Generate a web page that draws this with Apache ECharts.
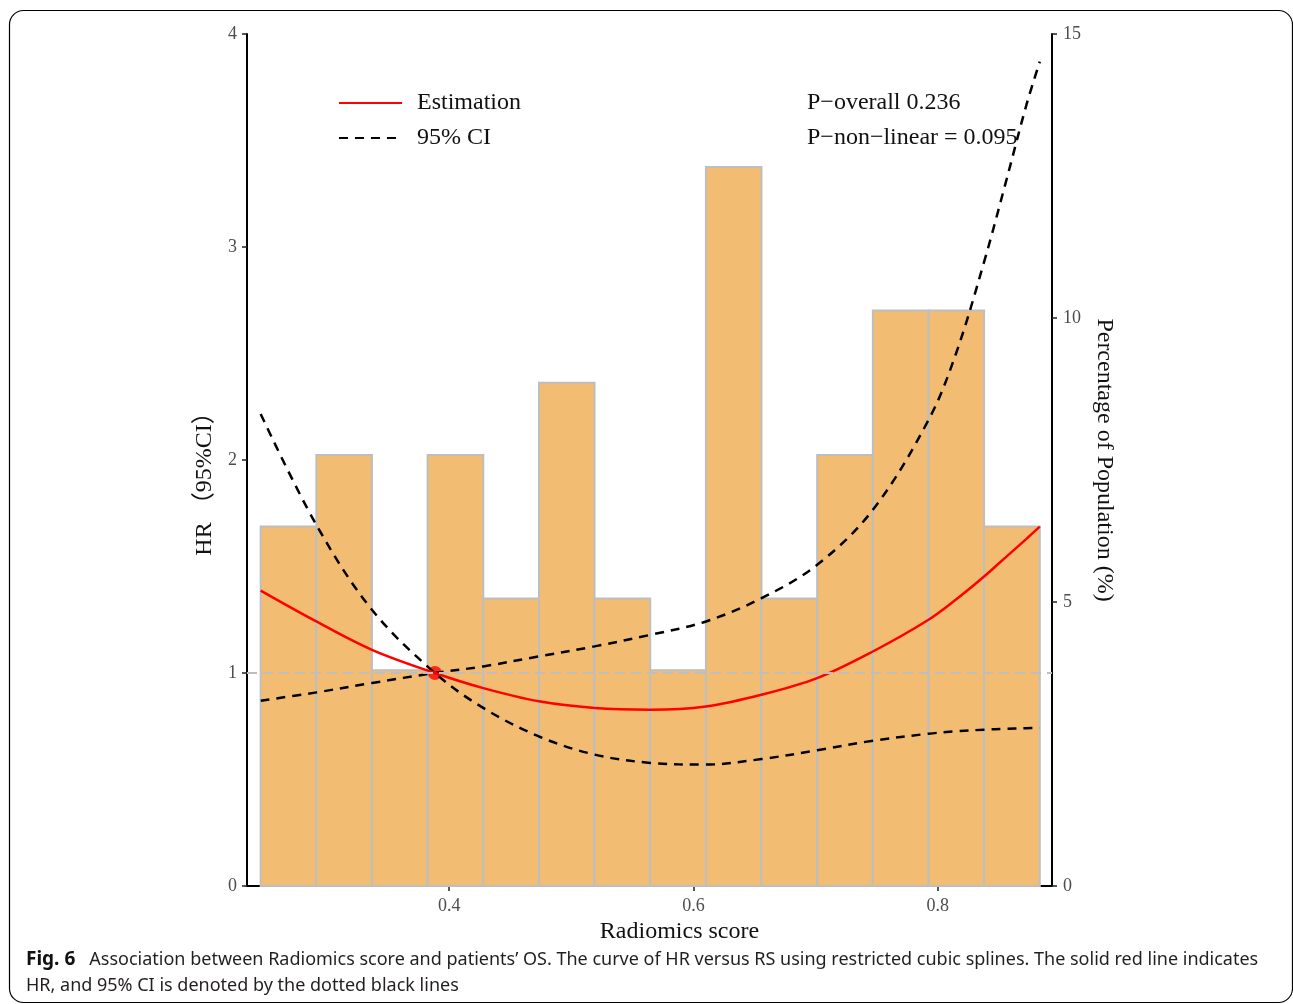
<!DOCTYPE html>
<html>
<head>
<meta charset="utf-8">
<title>Fig. 6</title>
<script src="https://cdn.jsdelivr.net/npm/echarts@6/dist/echarts.min.js"></script>
<style>
  html, body { margin: 0; padding: 0; background: #fff; }
  #chart { width: 1293px; height: 1004px; }
</style>
</head>
<body>
<div id="chart"></div>
<script>
// histogram of Radiomics score: bin edges and percentage of population per bin
var binEdges = [0.2456, 0.2912, 0.3367, 0.3823, 0.4279, 0.4735, 0.5190, 0.5646,
                0.6102, 0.6557, 0.7013, 0.7469, 0.7925, 0.8380, 0.8836];
var binPct = [6.33, 7.59, 3.80, 7.59, 5.06, 8.86, 5.06, 3.80, 12.66, 5.06, 7.59, 10.13, 10.13, 6.33];

// restricted cubic spline, HR and 95% CI
var curveX = [0.2456, 0.2912, 0.3367, 0.3883, 0.4279, 0.4735, 0.5190, 0.5646, 0.6102,
              0.6557, 0.7013, 0.7469, 0.7925, 0.8150, 0.8380, 0.8556, 0.8727, 0.8836];
var hrEst = [1.387, 1.242, 1.109, 1.000, 0.929, 0.867, 0.836, 0.828, 0.843,
             0.898, 0.976, 1.101, 1.250, 1.345, 1.453, 1.543, 1.630, 1.687];
// CI line that starts high on the left and ends low on the right
var ciA = [2.216, 1.695, 1.297, 1.000, 0.836, 0.702, 0.617, 0.578, 0.570,
           0.596, 0.637, 0.682, 0.715, 0.726, 0.734, 0.738, 0.741, 0.742];
// CI line that starts low on the left and ends high on the right
var ciB = [0.870, 0.909, 0.953, 1.000, 1.031, 1.078, 1.125, 1.179, 1.242,
           1.351, 1.508, 1.766, 2.188, 2.500, 2.930, 3.300, 3.668, 3.870];

var refPoint = [0.3883, 1];
var xTicks = [0.4, 0.6, 0.8];

var pText = ['P\u2212overall 0.236', 'P\u2212non\u2212linear = 0.095'];
var caption1 = 'Association between Radiomics score and patients\u2019 OS. The curve of HR versus RS using restricted cubic splines. The solid red line indicates';
var caption2 = 'HR, and 95% CI is denoted by the dotted black lines';

var serif = "'Liberation Serif', 'Noto Sans CJK SC', serif";
var sans = "'Noto Sans', sans-serif";

function pairs(ys) {
  return curveX.map(function (x, i) { return [x, ys[i]]; });
}

var barData = binPct.map(function (p, i) {
  return [binEdges[i], binEdges[i + 1], p];
});

var chart = echarts.init(document.getElementById('chart'));

chart.setOption({
  backgroundColor: '#fff',
  animation: false,
  grid: { left: 247, right: 241, top: 34, bottom: 118 },
  legend: {
    left: 338,
    top: 91,
    padding: 0,
    orient: 'vertical',
    itemWidth: 63,
    itemHeight: 14,
    itemGap: 11,
    itemStyle: { opacity: 0 },
    data: ['Estimation', '95% CI'],
    textStyle: { fontFamily: serif, fontSize: 24, color: '#111', lineHeight: 24, padding: [0, 0, 0, 10] }
  },
  xAxis: {
    type: 'value',
    min: 0.2344,
    max: 0.8936,
    name: 'Radiomics score',
    nameLocation: 'middle',
    nameGap: 30,
    nameTextStyle: { fontFamily: serif, fontSize: 24, color: '#111', padding: [0, 0, 0, 60] },
    axisLine: { lineStyle: { color: '#000', width: 2 } },
    axisTick: { customValues: xTicks, length: 5, lineStyle: { color: '#222', width: 1.5 } },
    axisLabel: {
      customValues: xTicks,
      margin: 11,
      fontFamily: serif,
      fontSize: 18,
      color: '#4d4d4d',
      formatter: function (v) { return v.toFixed(1); }
    },
    splitLine: { show: false }
  },
  yAxis: [{
    type: 'value',
    position: 'left',
    min: 0,
    max: 4,
    interval: 1,
    name: 'HR \uFF0895%CI\uFF09',
    nameLocation: 'middle',
    nameGap: 26,
    nameTextStyle: { fontFamily: serif, fontSize: 24, color: '#111', padding: [0, 36, 0, 0] },
    axisLine: { show: true, lineStyle: { color: '#000', width: 2 } },
    axisTick: { show: true, length: 5, lineStyle: { color: '#222', width: 1.5 } },
    axisLabel: { margin: 10, fontFamily: serif, fontSize: 18, color: '#4d4d4d' },
    splitLine: { show: false }
  }, {
    type: 'value',
    position: 'right',
    min: 0,
    max: 15,
    interval: 5,
    name: 'Percentage of Population (%)',
    nameLocation: 'middle',
    nameRotate: -90,
    nameGap: 24,
    nameTextStyle: { fontFamily: serif, fontSize: 24, color: '#111' },
    axisLine: { show: true, lineStyle: { color: '#000', width: 2 } },
    axisTick: { show: true, length: 5, lineStyle: { color: '#222', width: 1.5 } },
    axisLabel: { margin: 11, fontFamily: serif, fontSize: 18, color: '#4d4d4d' },
    splitLine: { show: false }
  }],
  series: [{
    type: 'custom',
    yAxisIndex: 1,
    data: barData,
    encode: { x: [0, 1], y: 2 },
    renderItem: function (params, api) {
      var topLeft = api.coord([api.value(0), api.value(2)]);
      var bottomRight = api.coord([api.value(1), 0]);
      return {
        type: 'rect',
        shape: {
          x: topLeft[0],
          y: topLeft[1],
          width: bottomRight[0] - topLeft[0],
          height: bottomRight[1] - topLeft[1]
        },
        style: { fill: '#f2bd72', stroke: '#bebebe', lineWidth: 2 }
      };
    }
  }, {
    name: '95% CI',
    type: 'line',
    data: pairs(ciA),
    smooth: 0.35,
    symbol: 'none',
    lineStyle: { color: '#000', width: 2.5, type: [9, 7] },
    itemStyle: { color: '#000' },
    markLine: {
      silent: true,
      symbol: 'none',
      label: { show: false },
      lineStyle: { color: '#bebebe', width: 2, type: [10, 6] },
      data: [{ yAxis: 1 }]
    }
  }, {
    name: '95% CI',
    type: 'line',
    data: pairs(ciB),
    smooth: 0.35,
    symbol: 'none',
    lineStyle: { color: '#000', width: 2.5, type: [9, 7] },
    itemStyle: { color: '#000' }
  }, {
    name: 'Estimation',
    type: 'line',
    data: pairs(hrEst),
    smooth: 0.35,
    symbol: 'none',
    lineStyle: { color: '#ff0000', width: 2.5 },
    itemStyle: { color: '#ff0000' }
  }, {
    type: 'scatter',
    data: [refPoint],
    symbolSize: 14,
    itemStyle: { color: '#ff0000' }
  }],
  graphic: [{
    type: 'rect',
    shape: { x: 9.5, y: 10.5, width: 1283, height: 992, r: 14 },
    style: { fill: 'none', stroke: '#000', lineWidth: 1.2 },
    silent: true
  }, {
    type: 'text',
    left: 807,
    top: 91,
    style: { text: pText[0], font: '24px ' + serif, fill: '#111' }
  }, {
    type: 'text',
    left: 807,
    top: 126,
    style: { text: pText[1], font: '24px ' + serif, fill: '#111' }
  }, {
    type: 'text',
    left: 26,
    top: 950,
    style: {
      text: '{b|Fig. 6}   ' + caption1,
      fill: '#231f20',
      rich: {
        b: { fontFamily: sans, fontSize: 19, fontWeight: 'bold', fill: '#111' }
      },
      font: '18px ' + sans
    }
  }, {
    type: 'text',
    left: 26,
    top: 977,
    style: { text: caption2, font: '18px ' + sans, fill: '#231f20' }
  }]
});
</script>
</body>
</html>
